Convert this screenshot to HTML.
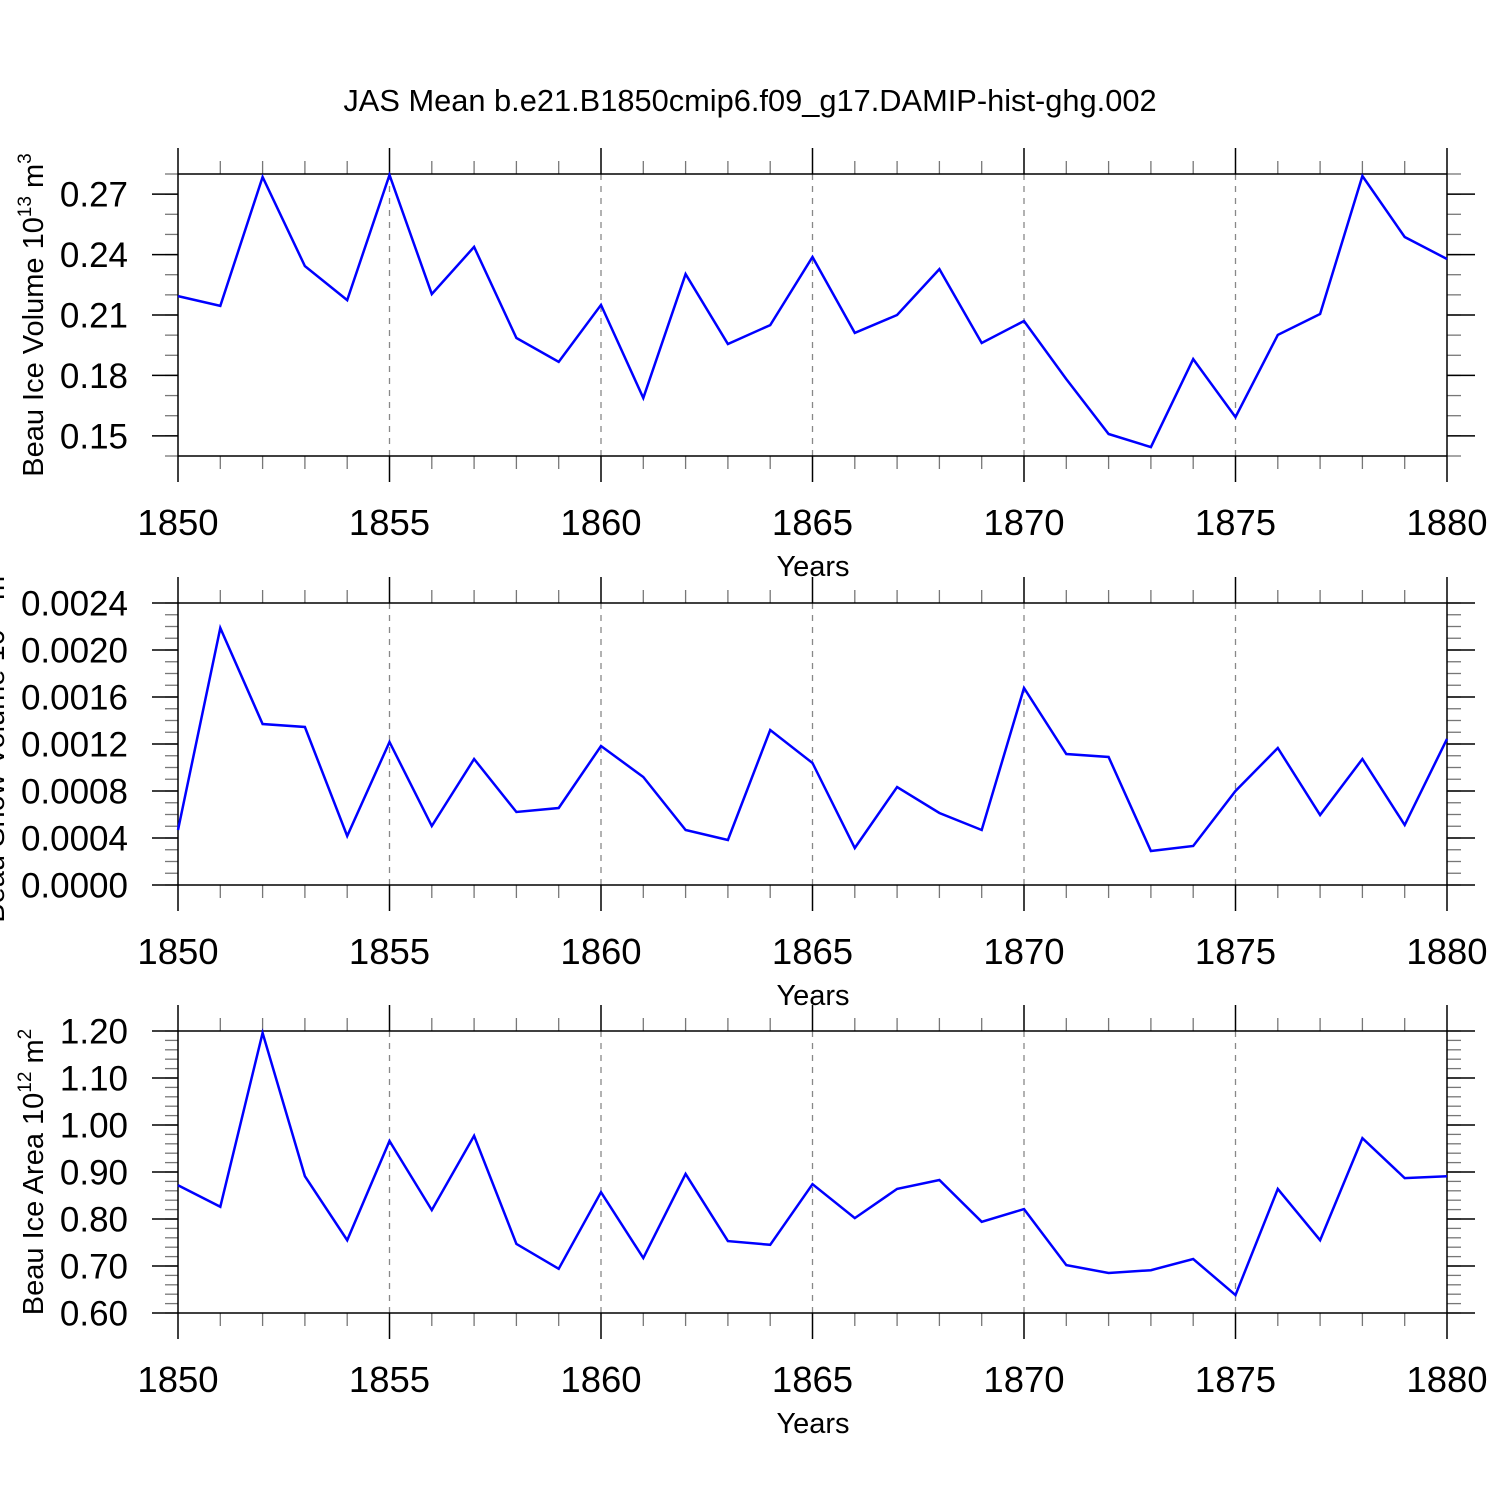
<!DOCTYPE html>
<html><head><meta charset="utf-8"><style>
html,body{margin:0;padding:0;background:#fff;}
svg{display:block;font-family:"Liberation Sans",Arial,sans-serif;}
</style></head><body>
<svg id="chart" width="1500" height="1500" viewBox="0 0 1500 1500" xmlns="http://www.w3.org/2000/svg">
<rect width="1500" height="1500" fill="#fff"/>
<text x="750" y="111" font-size="30.8" text-anchor="middle">JAS Mean b.e21.B1850cmip6.f09_g17.DAMIP-hist-ghg.002</text>
</svg>
<script>
const years = [1850,1851,1852,1853,1854,1855,1856,1857,1858,1859,1860,1861,1862,1863,1864,1865,1866,1867,1868,1869,1870,1871,1872,1873,1874,1875,1876,1877,1878,1879,1880];
const iceVolume = [0.2194,0.2145,0.2785,0.2343,0.2174,0.2795,0.2204,0.2438,0.1986,0.1867,0.2150,0.1688,0.2303,0.1956,0.2050,0.2388,0.2011,0.2100,0.2328,0.1961,0.2070,0.1782,0.1509,0.1444,0.1881,0.1593,0.2001,0.2105,0.2790,0.2487,0.2378];
const snowVolume = [0.000468,0.002187,0.00137,0.001345,0.000417,0.001217,0.000502,0.001072,0.000621,0.000655,0.001183,0.000919,0.000468,0.000383,0.001319,0.001038,0.000315,0.000834,0.000613,0.000468,0.001677,0.001115,0.001089,0.000289,0.000332,0.0008,0.001166,0.000596,0.001072,0.000511,0.001243];
const iceArea = [0.872,0.826,1.196,0.891,0.755,0.966,0.819,0.977,0.747,0.694,0.857,0.717,0.896,0.753,0.745,0.874,0.802,0.864,0.883,0.794,0.821,0.702,0.685,0.691,0.715,0.638,0.864,0.755,0.972,0.887,0.891];
const xTickLabels = ["1850","1855","1860","1865","1870","1875","1880"];
const volTicks = ["0.15","0.18","0.21","0.24","0.27"];
const snowTicks = ["0.0000","0.0004","0.0008","0.0012","0.0016","0.0020","0.0024"];
const areaTicks = ["0.60","0.70","0.80","0.90","1.00","1.10","1.20"];

const svg = document.getElementById('chart');
const NS = 'http://www.w3.org/2000/svg';
function mk(tag, attrs, parent){ const e=document.createElementNS(NS,tag); for(const k in attrs) e.setAttribute(k,attrs[k]); (parent||svg).appendChild(e); return e; }

const X0=178, X1=1447;
const xs = v => X0 + (v-1850)/30*(X1-X0);

const panels = [
 {name:'ice-volume', top:174, bot:456, ymin:0.14, ymax:0.28, minorStep:0.01, ticks:volTicks, data:iceVolume, title:['Beau Ice Volume 10','13',' m','3'], tx:33},
 {name:'snow-volume', top:603, bot:885, ymin:0, ymax:0.0024, minorStep:0.0001, ticks:snowTicks, data:snowVolume, title:['Beau Snow Volume 10','13',' m','3'], tx:-6},
 {name:'ice-area', top:1031, bot:1313, ymin:0.6, ymax:1.2, minorStep:0.02, ticks:areaTicks, data:iceArea, title:['Beau Ice Area 10','12',' m','2'], tx:33}
];

panels.forEach(p=>{
  const g = mk('g',{});
  
  
  const ys = v => p.bot - (v-p.ymin)/(p.ymax-p.ymin)*(p.bot-p.top);
  for(let yr=1855; yr<=1875; yr+=5){
    const l=mk('line',{x1:xs(yr),x2:xs(yr),y1:p.top,y2:p.bot,stroke:'#888','stroke-width':1.3,'stroke-dasharray':'6,6'},g);
    
    
  }
  for(let yr=1850; yr<=1880; yr++){
    const major = (yr%5===0);
    const len = major?26:13;
    mk('line',{x1:xs(yr),x2:xs(yr),y1:p.top-len,y2:p.top,stroke:major?'#000':'#777','stroke-width':major?1.5:1.3},g);
    mk('line',{x1:xs(yr),x2:xs(yr),y1:p.bot,y2:p.bot+len,stroke:major?'#000':'#777','stroke-width':major?1.5:1.3},g);
  }
  const nMinor = Math.round((p.ymax-p.ymin)/p.minorStep);
  for(let i=0;i<=nMinor;i++){
    const y = ys(p.ymin+i*p.minorStep);
    mk('line',{x1:X0-13,x2:X0,y1:y,y2:y,stroke:'#777','stroke-width':1.3},g);
    mk('line',{x1:X1,x2:X1+14,y1:y,y2:y,stroke:'#777','stroke-width':1.3},g);
  }
  p.ticks.forEach(t=>{
    const y = ys(parseFloat(t));
    mk('line',{x1:X0-26,x2:X0,y1:y,y2:y,stroke:'#000','stroke-width':1.5},g);
    mk('line',{x1:X1,x2:X1+28,y1:y,y2:y,stroke:'#000','stroke-width':1.5},g);
    const tx = mk('text',{x:128,y:y+12.5,'font-size':35,'text-anchor':'end'},g);
    tx.textContent=t;
    
    
  });
  const fr = mk('rect',{x:X0,y:p.top,width:X1-X0,height:p.bot-p.top,fill:'none',stroke:'#000','stroke-width':1.5},g);
  
  
  xTickLabels.forEach(t=>{
    const tx = mk('text',{x:xs(+t),y:p.bot+79,'font-size':36.5,'text-anchor':'middle'},g);
    tx.textContent=t;
    
    
  });
  const xt = mk('text',{x:813,y:p.bot+120,'font-size':29,'text-anchor':'middle'},g);
  xt.textContent='Years';
  
  
  const cy = (p.top+p.bot)/2;
  const yt = mk('text',{x:0,y:0,'font-size':29,'text-anchor':'middle',transform:`translate(${p.tx+10},${cy}) rotate(-90)`},g);
  
  
  p.title.forEach((s,i)=>{
    const ts = mk('tspan',{},yt);
    if(i%2===1){ ts.setAttribute('font-size','19'); ts.setAttribute('dy','-12'); }
    else if(i>0){ ts.setAttribute('dy','12'); }
    ts.textContent=s;
  });
  const pts = p.data.map((v,i)=>xs(years[i]).toFixed(1)+','+ys(v).toFixed(1)).join(' ');
  const line = mk('polyline',{points:pts,fill:'none',stroke:'#0000ff','stroke-width':2.5,'stroke-linejoin':'miter'},g);
  
  
});
</script>
</body></html>
